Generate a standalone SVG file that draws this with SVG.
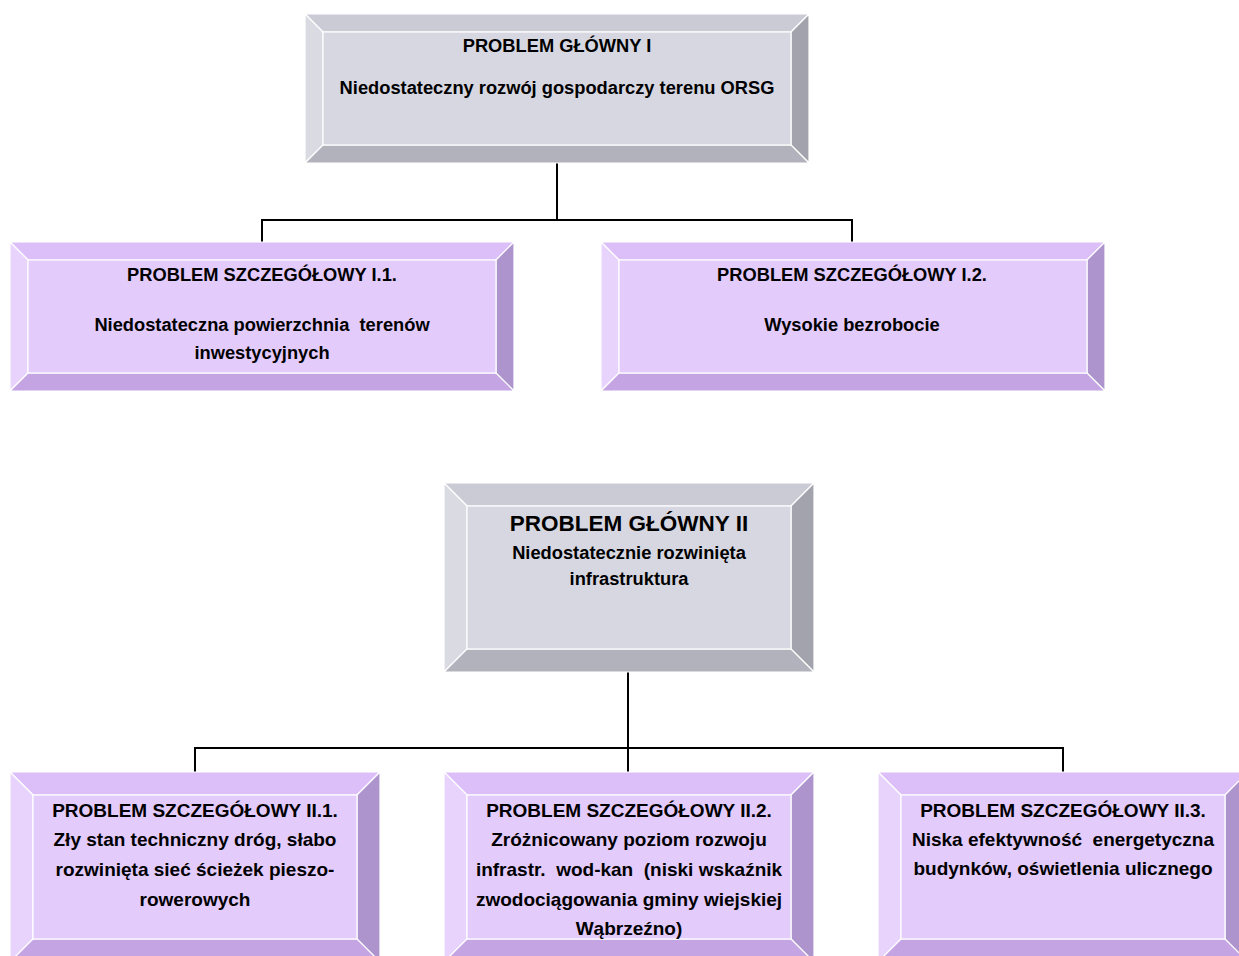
<svg xmlns="http://www.w3.org/2000/svg" width="1239" height="956" viewBox="0 0 1239 956">
<style>
  .bev polygon, .bev rect { stroke: #ffffff; stroke-width: 1.2; stroke-linejoin: miter; }
  .g .face { fill: #d7d7e1; } .g .top { fill: #cbcbd6; } .g .left { fill: #dadae3; } .g .right { fill: #a3a3ae; } .g .bot { fill: #b2b2bd; }
  .p .face { fill: #e3cbfc; } .p .top { fill: #dcbff9; } .p .left { fill: #e7d3fc; } .p .right { fill: #ad94cc; } .p .bot { fill: #c4a4e3; }
  text { font-family: "Liberation Sans", Arial, sans-serif; font-weight: bold; fill: #000000; text-anchor: middle; white-space: pre; }
  .t1 { font-size: 18.3px; }
  .t2 { font-size: 19px; }
  .big { font-size: 22.5px; }
  .conn { stroke: #000000; stroke-width: 2; fill: none; }
</style>

<g id="connectors">
  <path class="conn" d="M557 163 V220 M262 242 V220 H852 V242"/>
  <path class="conn" d="M628 672 V748 M195 772 V748 H1063 V772 M628 748 V772"/>
</g>

<g id="main1" class="bev g">
  <polygon class="top" points="305,14 809,14 791,32 323,32"/>
  <polygon class="left" points="305,14 323,32 323,145 305,163"/>
  <polygon class="right" points="809,14 809,163 791,145 791,32"/>
  <polygon class="bot" points="305,163 323,145 791,145 809,163"/>
  <rect class="face" x="323" y="32" width="468" height="113"/>
  <text class="t1" x="557" y="52">PROBLEM GŁÓWNY I</text>
  <text class="t1" x="557" y="94">Niedostateczny rozwój gospodarczy terenu ORSG</text>
</g>

<g id="sub11" class="bev p">
  <polygon class="top" points="10,242 514,242 496,260 28,260"/>
  <polygon class="left" points="10,242 28,260 28,373 10,391"/>
  <polygon class="right" points="514,242 514,391 496,373 496,260"/>
  <polygon class="bot" points="10,391 28,373 496,373 514,391"/>
  <rect class="face" x="28" y="260" width="468" height="113"/>
  <text class="t1" x="262" y="281">PROBLEM SZCZEGÓŁOWY I.1.</text>
  <text class="t1" x="262" y="331">Niedostateczna powierzchnia  terenów</text>
  <text class="t1" x="262" y="359">inwestycyjnych</text>
</g>

<g id="sub12" class="bev p">
  <polygon class="top" points="601,242 1105,242 1087,260 619,260"/>
  <polygon class="left" points="601,242 619,260 619,373 601,391"/>
  <polygon class="right" points="1105,242 1105,391 1087,373 1087,260"/>
  <polygon class="bot" points="601,391 619,373 1087,373 1105,391"/>
  <rect class="face" x="619" y="260" width="468" height="113"/>
  <text class="t1" x="852" y="281">PROBLEM SZCZEGÓŁOWY I.2.</text>
  <text class="t1" x="852" y="331">Wysokie bezrobocie</text>
</g>

<g id="main2" class="bev g">
  <polygon class="top" points="444,483 814,483 791,506 467,506"/>
  <polygon class="left" points="444,483 467,506 467,649 444,672"/>
  <polygon class="right" points="814,483 814,672 791,649 791,506"/>
  <polygon class="bot" points="444,672 467,649 791,649 814,672"/>
  <rect class="face" x="467" y="506" width="324" height="143"/>
  <text class="big" x="629" y="531">PROBLEM GŁÓWNY II</text>
  <text class="t1" x="629" y="559">Niedostatecznie rozwinięta</text>
  <text class="t1" x="629" y="585">infrastruktura</text>
</g>

<g id="sub21" class="bev p">
  <polygon class="top" points="10,772 380,772 357,795 33,795"/>
  <polygon class="left" points="10,772 33,795 33,939 10,962"/>
  <polygon class="right" points="380,772 380,962 357,939 357,795"/>
  <polygon class="bot" points="10,962 33,939 357,939 380,962"/>
  <rect class="face" x="33" y="795" width="324" height="144"/>
  <text class="t2" x="195" y="817">PROBLEM SZCZEGÓŁOWY II.1.</text>
  <text class="t2" x="195" y="846">Zły stan techniczny dróg, słabo</text>
  <text class="t2" x="195" y="876">rozwinięta sieć ścieżek pieszo-</text>
  <text class="t2" x="195" y="906">rowerowych</text>
</g>

<g id="sub22" class="bev p">
  <polygon class="top" points="444,772 814,772 791,795 467,795"/>
  <polygon class="left" points="444,772 467,795 467,939 444,962"/>
  <polygon class="right" points="814,772 814,962 791,939 791,795"/>
  <polygon class="bot" points="444,962 467,939 791,939 814,962"/>
  <rect class="face" x="467" y="795" width="324" height="144"/>
  <text class="t2" x="629" y="817">PROBLEM SZCZEGÓŁOWY II.2.</text>
  <text class="t2" x="629" y="846">Zróżnicowany poziom rozwoju</text>
  <text class="t2" x="629" y="876">infrastr.  wod-kan  (niski wskaźnik</text>
  <text class="t2" x="629" y="906">zwodociągowania gminy wiejskiej</text>
  <text class="t2" x="629" y="935">Wąbrzeźno)</text>
</g>

<g id="sub23" class="bev p">
  <polygon class="top" points="878,772 1248,772 1225,795 901,795"/>
  <polygon class="left" points="878,772 901,795 901,939 878,962"/>
  <polygon class="right" points="1248,772 1248,962 1225,939 1225,795"/>
  <polygon class="bot" points="878,962 901,939 1225,939 1248,962"/>
  <rect class="face" x="901" y="795" width="324" height="144"/>
  <text class="t2" x="1063" y="817">PROBLEM SZCZEGÓŁOWY II.3.</text>
  <text class="t2" x="1063" y="846">Niska efektywność  energetyczna</text>
  <text class="t2" x="1063" y="875">budynków, oświetlenia ulicznego</text>
</g>
</svg>
